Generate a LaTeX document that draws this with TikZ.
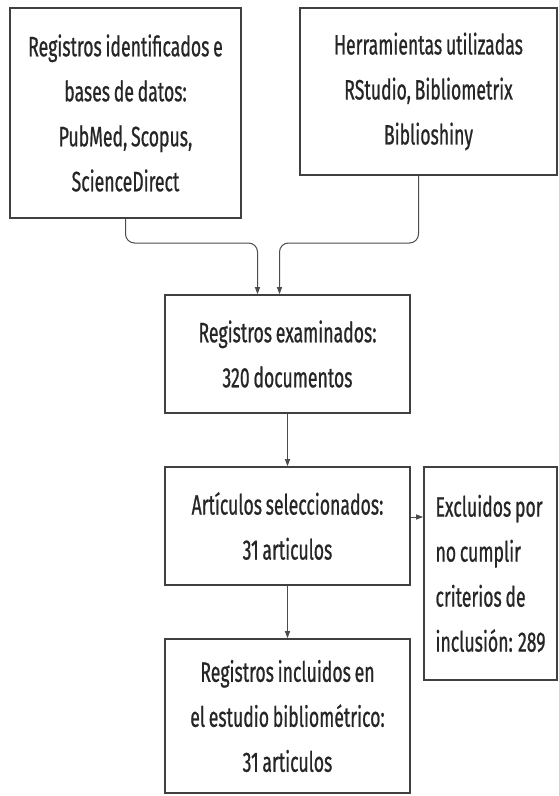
\documentclass[tikz,border=0pt]{standalone}
\usepackage{fontspec}
\setmainfont{Fira Sans}[FakeStretch=0.63, WordSpace=0.8, FakeBold=0.7]
\usepackage{tikz}
\usetikzlibrary{arrows.meta}
\tikzstyle{box} = [draw=black!75, line width=1.6pt, rectangle, inner sep=0pt, align=center, text=black!85, font=\fontsize{28}{45}\selectfont]
\tikzstyle{mid} = [box, minimum width=245pt, minimum height=118pt]
\tikzstyle{link} = [draw=black!70, line width=1pt, -{Triangle[length=7pt,width=5pt]}, rounded corners=9pt]

\begin{document}
\begin{tikzpicture}[x=1pt, y=-1pt]
    \useasboundingbox[fill=white] (0,0) rectangle (559,796);
    \node[box, minimum width=231pt, minimum height=210pt] (ident) at (125.5,113) {Registros identificados e\\bases de datos:\\PubMed, Scopus,\\ScienceDirect};
    \node[box, minimum width=257pt, minimum height=167pt] (herr) at (428.5,91.5) {Herramientas utilizadas\\RStudio, Bibliometrix\\Biblioshiny};
    \node[mid] (exam) at (287.5,354) {Registros examinados:\\ 320 documentos};
    \node[mid] (selec) at (287.5,526) {Artículos seleccionados:\\31 articulos};
    \node[box, align=left, minimum width=133pt, minimum height=213pt] (excl) at (490.5,573.5) {Excluidos por\\no cumplir\\criterios de\\inclusión: 289};
    \node[box, minimum width=245pt, minimum height=154pt] (incl) at (287.5,716) {Registros incluidos en\\el estudio bibliométrico:\\31 articulos};
    % entradas a los registros examinados
    \coordinate (join) at (0,243);
    \coordinate (inL) at ([xshift=-30pt]exam.north);
    \coordinate (inR) at ([xshift=-8pt]exam.north);
    \draw[link] (ident.south) |- (join -| inL) -- (inL);
    \draw[link] ([xshift=-10pt]herr.south) |- (join -| inR) -- (inR);
    \draw[link] (exam) -- (selec);
    \draw[link] (selec) -- (incl);
    \draw[link] ([yshift=9pt]selec.east) -- ([yshift=9pt]selec.east -| excl.west);
\end{tikzpicture}
\end{document}
